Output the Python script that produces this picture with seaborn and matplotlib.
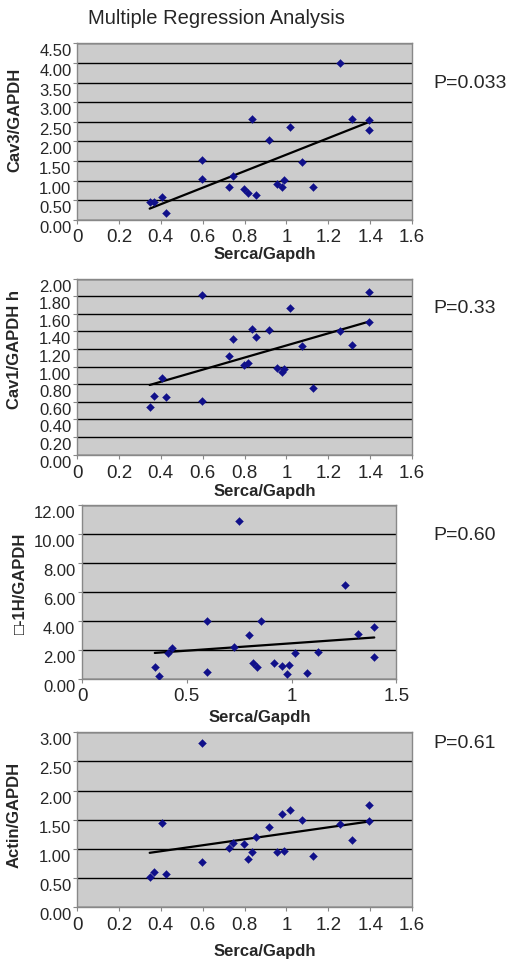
import numpy as np
import pandas as pd
import matplotlib
matplotlib.use('Agg')
import matplotlib.pyplot as plt
import matplotlib.transforms as mtransforms
import seaborn as sns

# Serca/Gapdh values (shared by all four panels)
serca = [0.347, 0.368, 0.408, 0.427, 0.597, 0.597, 0.726, 0.747, 0.796, 0.815, 0.836, 0.855,
         0.916, 0.954, 0.978, 0.987, 1.016, 1.076, 1.126, 1.256, 1.315, 1.395, 1.395]

cav3 = [0.47, 0.47, 0.58, 0.17, 1.52, 1.04, 0.84, 1.11, 0.78, 0.70, 2.57, 0.65,
        2.05, 0.93, 0.84, 1.02, 2.38, 1.48, 0.83, 4.00, 2.57, 2.55, 2.30]
cav1 = [0.54, 0.67, 0.87, 0.66, 1.81, 0.61, 1.12, 1.31, 1.02, 1.04, 1.43, 1.34,
        1.42, 0.99, 0.94, 0.975, 1.67, 1.24, 0.76, 1.40, 1.25, 1.85, 1.51]
b1h = [0.87, 0.25, 1.81, 2.17, 3.98, 0.50, 2.22, 10.90, 3.02, 1.14, 0.85, 4.02,
       1.10, 0.94, 0.39, 1.01, 1.81, 0.41, 1.85, 6.47, 3.09, 3.59, 1.53]
actin = [0.51, 0.60, 1.44, 0.57, 2.81, 0.78, 1.01, 1.10, 1.08, 0.83, 0.94, 1.20,
         1.37, 0.94, 1.60, 0.97, 1.66, 1.50, 0.87, 1.42, 1.15, 1.75, 1.47]

ylabels = ['Cav3/GAPDH', 'Cav1/GAPDH h', '\u25a1-1H/GAPDH', 'Actin/GAPDH']
pvalues = ['P=0.033', 'P=0.33', 'P=0.60', 'P=0.61']
yticks = [np.arange(0, 4.51, 0.5), np.arange(0, 2.01, 0.2), np.arange(0, 12.01, 2), np.arange(0, 3.01, 0.5)]
xticks_a = [0, 0.2, 0.4, 0.6, 0.8, 1, 1.2, 1.4, 1.6]
xticks_b = [0, 0.5, 1, 1.5]

sns.set_theme(style='white')
plt.rcParams['font.family'] = ['Liberation Sans', 'DejaVu Sans']

fig = plt.figure(figsize=(5.1, 9.61), dpi=100)

# axes boxes in figure fractions
boxes = [
    [0.151, 0.771, 0.657, 0.184],
    [0.151, 0.527, 0.657, 0.183],
    [0.161, 0.293, 0.616, 0.182],
    [0.151, 0.056, 0.657, 0.182],
]
ylab_pos = [(-0.164, 0.565), (-0.164, 0.60), (-0.172, 0.55), (-0.164, 0.526)]
xlab_pos = [(0.561, -0.15), (0.561, -0.17), (0.567, -0.175), (0.561, -0.21)]
ypad = [1, 1, 2, 1]
xpad = [3.5, 4.5, 3, 4]
p_y = [84, 308, 535, 743]

# excel draws the value labels a few pixels below their gridline
shift = mtransforms.ScaledTranslation(0, -7 / 100, fig.dpi_scale_trans)

series = [cav3, cav1, b1h, actin]
for i, vals in enumerate(series):
    ax = fig.add_axes(boxes[i])
    df = pd.DataFrame({'x': serca, 'y': vals})
    ax.set_facecolor('#cccccc')
    sns.regplot(data=df, x='x', y='y', ax=ax, scatter=False, ci=None,
                line_kws={'color': 'black', 'lw': 1.6, 'zorder': 3})
    sns.scatterplot(data=df, x='x', y='y', ax=ax, marker='D', s=16,
                    color='#10108a', edgecolor='#10108a', linewidth=0.3, zorder=4)
    yt = yticks[i]
    ax.set_ylim(0, yt[-1])
    ax.set_yticks(yt)
    ax.set_yticklabels(['%.2f' % v for v in yt], fontsize=12)
    if i == 2:
        ax.set_xlim(0, 1.5)
        ax.set_xticks(xticks_b)
        ax.set_xticklabels(['%g' % v for v in xticks_b], fontsize=13.5)
    else:
        ax.set_xlim(0, 1.6)
        ax.set_xticks(xticks_a)
        ax.set_xticklabels(['%g' % v for v in xticks_a], fontsize=13.5)
    ax.yaxis.grid(True, color='black', lw=1.0)
    ax.xaxis.grid(False)
    ax.set_axisbelow(True)
    for sp in ax.spines.values():
        sp.set_color('#888888')
        sp.set_linewidth(1.0)
    ax.tick_params(axis='both', direction='out', length=3, width=0.8, color='#888888',
                   left=True, bottom=True)
    ax.tick_params(axis='y', pad=ypad[i])
    ax.tick_params(axis='x', pad=xpad[i])
    for lab in ax.get_yticklabels():
        lab.set_transform(lab.get_transform() + shift)
    ax.set_ylabel(ylabels[i], fontsize=12, fontweight='bold')
    ax.set_xlabel('Serca/Gapdh', fontsize=12, fontweight='bold')
    ax.yaxis.set_label_coords(*ylab_pos[i])
    ax.xaxis.set_label_coords(*xlab_pos[i])
    fig.text(433 / 510, 1 - p_y[i] / 961, pvalues[i], fontsize=14, ha='left', va='center')

fig.text(216 / 510, 1 - 18 / 961, 'Multiple Regression Analysis', fontsize=14.5,
         ha='center', va='center')

fig.savefig('out.png', dpi=100, facecolor='white')
